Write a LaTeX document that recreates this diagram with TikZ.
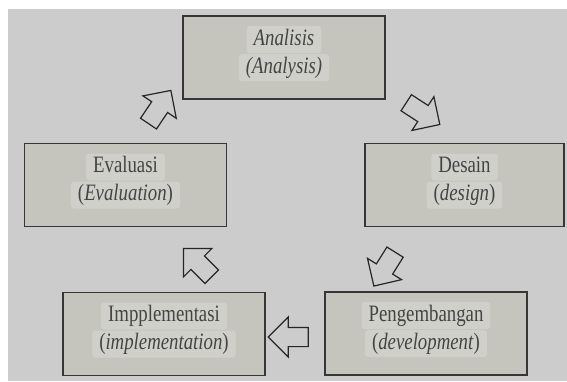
\documentclass[tikz,border=0pt]{standalone}
\usepackage{fontspec}
\setmainfont{Liberation Serif}[FakeStretch=0.8]
\usetikzlibrary{shapes.arrows}
\definecolor{bg}{HTML}{CCCCCC}
\definecolor{boxfill}{HTML}{C5C5BD}
\definecolor{boxline}{HTML}{363636}
\definecolor{patch}{HTML}{D0D0CA}
\definecolor{txt}{HTML}{444444}
\begin{document}
\begin{tikzpicture}[x=1pt,y=-1pt,
  phase/.style={draw=boxline, line width=1.8pt, fill=boxfill,
    minimum width=#1, minimum height=83pt, inner sep=0pt},
  phase/.default=202pt,
  txtline/.style={font=\fontsize{23.5}{28}\selectfont, text=txt, fill=patch,
    rounded corners=3pt, inner xsep=7pt, inner ysep=3pt,
    text height=16pt, text depth=5pt},
  blockarrow/.style={single arrow, draw=black!85, line width=1.2pt, fill=bg,
    minimum height=40pt, inner xsep=0pt, inner ysep=9pt,
    single arrow head extend=10.5pt}]
\useasboundingbox (0,0) rectangle (567,381);
\fill[white] (0,0) rectangle (567,381);
\fill[bg] (8,9) rectangle (567,381);

\node[phase] (A) at (284,57.5) {};
\node[phase] (E) at (125.5,185) {};
\node[phase=199pt] (D) at (464.5,185) {};
\node[phase] (I) at (164,334) {};
\node[phase] (P) at (426,333.5) {};

\node[txtline] (A1) at ([yshift=18pt]A.center) {\itshape Analisis};
\node[txtline] (A2) at ([yshift=-10pt]A.center) {\itshape (Analysis)};
\node[txtline] (E1) at ([yshift=18pt]E.center) {Evaluasi};
\node[txtline] (E2) at ([yshift=-10pt]E.center) {(\textit{Evaluation})};
\node[txtline] (D1) at ([yshift=18pt]D.center) {Desain};
\node[txtline] (D2) at ([yshift=-10pt]D.center) {(\textit{design})};
\node[txtline] (I1) at ([yshift=18pt]I.center) {Impplementasi};
\node[txtline] (I2) at ([yshift=-10pt]I.center) {(\textit{implementation})};
\node[txtline] (P1) at ([yshift=18pt]P.center) {Pengembangan};
\node[txtline] (P2) at ([yshift=-10pt]P.center) {(\textit{development})};

\node[blockarrow, rotate=56] (aEA) at (157,111) {};
\node[blockarrow, rotate=-33] (aAD) at (419,111) {};
\node[blockarrow, rotate=-122] (aDP) at (387,265) {};
\node[blockarrow, rotate=180] (aPI) at (293,337) {};
\node[blockarrow, rotate=135] (aIE) at (201,266) {};
\end{tikzpicture}
\end{document}
